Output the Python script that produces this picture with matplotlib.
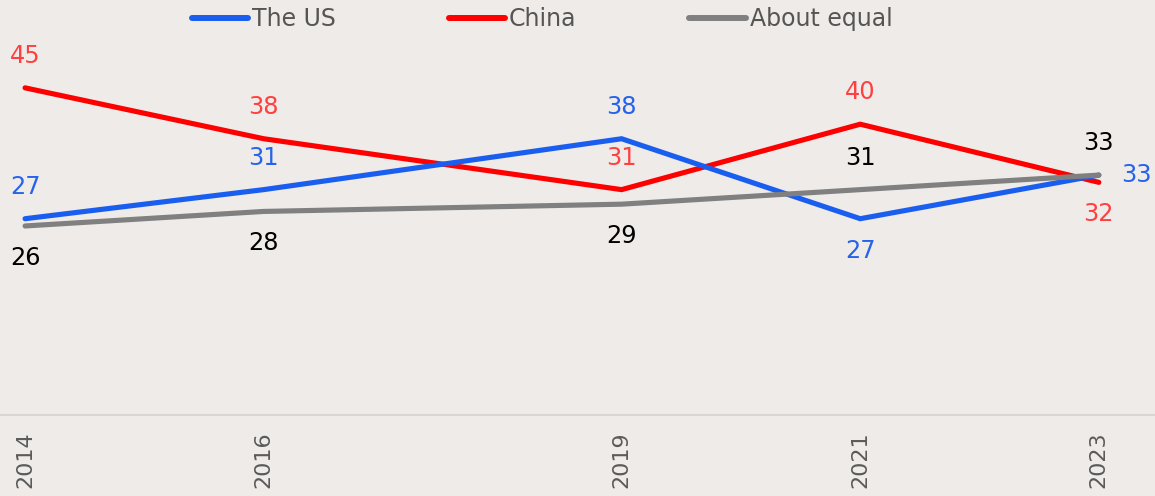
import matplotlib
matplotlib.use("Agg")
import matplotlib.pyplot as plt
from matplotlib.lines import Line2D

years = [2014, 2016, 2019, 2021, 2023]
tick_labels = ["2014", "2016", "2019", "2021", "2023"]
us = [27, 31, 38, 27, 33]
china = [45, 38, 31, 40, 32]
equal = [26, 28, 29, 31, 33]

# label placement per point: 'a' above, 'b' below, 'r' right
us_pos = ['a', 'a', 'a', 'b', 'r']
china_pos = ['a', 'a', 'a', 'a', 'b']
equal_pos = ['b', 'b', 'b', 'a', 'a']

BG = "#EFEBE8"
BLUE = "#1A5EF0"
RED = "#FF0000"
GRAY = "#808080"
BLUE_T = "#2563EB"
RED_T = "#FF4040"
BLACK_T = "#000000"

plt.rcParams['font.family'] = ['DejaVu Sans']

fig = plt.figure(figsize=(11.55, 4.96), dpi=100, facecolor=BG)
ax = fig.add_axes([0, 81 / 496, 1, 415 / 496])
ax.set_facecolor(BG)

series = [(us, BLUE, BLUE_T, us_pos, "The US", 3),
          (china, RED, RED_T, china_pos, "China", 2),
          (equal, GRAY, BLACK_T, equal_pos, "About equal", 4)]

for vals, c, tc, pos, name, z in series:
    ax.plot(years, vals, color=c, lw=3.7, solid_capstyle='round',
            solid_joinstyle='miter', zorder=z)
    for x, y, p in zip(years, vals, pos):
        if p == 'a':
            off, ha = (0, 23), 'center'
        elif p == 'b':
            off, ha = (0, -23), 'center'
        else:
            off, ha = (16, 0), 'left'
        ax.annotate(str(y), (x, y), xytext=off, textcoords='offset points',
                    ha=ha, va='center', fontsize=17.3, color=tc)

ax.set_xlim(2014 - 25 / 119, 2014 + 1127 / 119)
ax.set_ylim(0, 415 / 7.27)
for s in ['top', 'right', 'left']:
    ax.spines[s].set_visible(False)
ax.spines['bottom'].set_color("#D9D6D3")
ax.spines['bottom'].set_linewidth(1.5)
ax.set_yticks([])
ax.set_xticks(years)
ax.set_xticklabels(tick_labels, rotation=90, fontsize=16, color="#5A5A5A")
ax.tick_params(axis='x', length=0, pad=12)

handles = [Line2D([], [], color=c, lw=4.3, solid_capstyle='round') for _, c, _, _, _, _ in series]
labels = [s[4] for s in series]
fig.legend(handles, labels, loc='upper left', bbox_to_anchor=(180 / 1155, 1 + 5 / 496),
           ncol=3, frameon=False, fontsize=17, handlelength=2.4, borderpad=0,
           handletextpad=0.15, columnspacing=4.78, labelcolor="#555555")

fig.savefig("out.png", dpi=100, facecolor=BG)
